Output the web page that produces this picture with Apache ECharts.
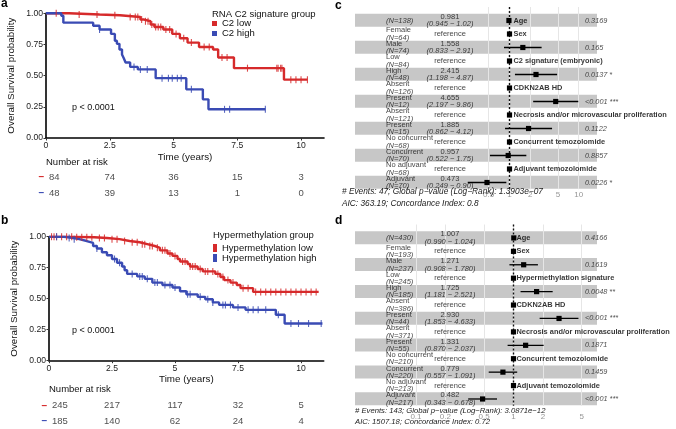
<!DOCTYPE html>
<html>
<head>
<meta charset="utf-8">
<script src="https://cdn.jsdelivr.net/npm/echarts@6/dist/echarts.min.js"></script>
<style>html,body{margin:0;padding:0;background:#fff}#main{width:676px;height:429px}</style>
</head>
<body>
<div id="main"></div>
<script>
var FONT = '"Liberation Sans", Arial, sans-serif';
var RED = '#d62a2b', BLUE = '#3a4bb4';

// ---- a: RNA C2 signature group ----
var kmTicks = [0, 2.5, 5, 7.5, 10];
var c2LowSteps = [[0,1],[0.9,0.99],[2.1,0.984],[2.9,0.97],[3.7,0.95],[3.85,0.936],[4.1,0.91],[4.25,0.89],[4.6,0.87],[4.95,0.835],[5.25,0.80],[5.55,0.765],[6.0,0.73],[6.55,0.71],[6.75,0.645],[7.37,0.56],[9.33,0.468],[10.25,0.468]];
var c2LowCensor = [0.4,1.3,2.0,2.7,3.3,3.5,3.6,3.75,3.9,4.0,4.15,4.3,4.4,4.5,4.7,4.85,5.1,5.4,5.7,6.2,6.4,6.9,7.1,7.9,9.05,9.1,9.2,9.25,9.6,9.8,10.0,10.25];
var c2HighSteps = [[0,1],[0.6,0.98],[0.68,0.925],[1.85,0.9],[2.1,0.87],[2.55,0.835],[2.7,0.78],[2.78,0.755],[2.88,0.71],[2.98,0.67],[3.05,0.64],[3.12,0.605],[3.3,0.57],[3.6,0.55],[4.3,0.48],[5.5,0.39],[6.15,0.31],[6.37,0.23],[8.6,0.23]];
var c2HighCensor = [2.1,3.45,3.7,3.97,4.55,4.8,4.95,5.15,5.3,5.7,7.0,7.2,8.6];
var riskALow = [84, 74, 36, 15, 3];
var riskAHigh = [48, 39, 13, 1, 0];

// ---- b: hypermethylation group ----
var hypLowSteps = [[0,1],[1.0,0.995],[1.8,0.99],[2.3,0.98],[2.8,0.965],[3.2,0.955],[3.6,0.94],[3.9,0.925],[4.2,0.91],[4.4,0.89],[4.7,0.865],[4.9,0.845],[5.1,0.82],[5.2,0.80],[5.5,0.78],[5.6,0.76],[5.9,0.74],[6.1,0.72],[6.6,0.70],[6.8,0.675],[6.95,0.65],[7.2,0.63],[7.45,0.61],[7.6,0.585],[8.1,0.555],[10.7,0.555]];
var hypLowCensor = [0.1,0.2,0.3,0.5,0.7,0.9,1.1,1.3,1.5,1.7,2.0,2.2,2.5,2.7,3.0,3.3,3.5,3.7,3.8,4.0,4.1,4.3,4.5,4.6,4.8,5.0,5.3,5.4,5.6,5.7,5.8,6.0,6.2,6.3,6.5,6.7,6.9,7.1,7.3,7.7,7.9,8.2,8.4,8.6,8.8,9.0,9.2,9.4,9.6,9.8,10.0,10.2,10.4,10.6];
var hypHighSteps = [[0,1],[0.6,0.99],[0.9,0.98],[1.2,0.965],[1.5,0.95],[1.75,0.925],[1.9,0.905],[2.1,0.875],[2.3,0.85],[2.5,0.82],[2.7,0.79],[2.9,0.76],[3.0,0.73],[3.1,0.70],[3.5,0.68],[3.8,0.66],[4.1,0.63],[4.5,0.61],[4.9,0.59],[5.2,0.56],[5.45,0.535],[5.9,0.515],[6.2,0.495],[6.5,0.47],[6.75,0.45],[7.3,0.43],[7.8,0.41],[9.0,0.37],[9.35,0.30],[10.85,0.30]];
var hypHighCensor = [0.3,0.8,1.0,1.9,2.6,2.8,3.3,3.6,3.7,3.9,4.2,4.3,4.6,4.8,5.0,5.5,5.6,6.0,6.3,6.5,6.9,7.0,7.2,7.5,7.9,8.1,8.3,8.6,9.1,9.6,9.9,10.3,10.8];
var riskBLow = [245, 217, 117, 32, 5];
var riskBHigh = [185, 140, 62, 24, 4];

// ---- c: Cox model, C2 signature ----
var cLevels = ['', 'Female', 'Male', 'Low', 'High', 'Absent', 'Present', 'Absent', 'Present', 'No concurrent', 'Concurrent', 'No adjuvant', 'Adjuvant'];
var cN = [138, 64, 74, 84, 48, 126, 12, 121, 15, 68, 70, 68, 70];
var cHR = ['0.981', null, '1.558', null, '2.415', null, '4.655', null, '1.885', null, '0.957', null, '0.473'];
var cLo = ['0.945', null, '0.833', null, '1.198', null, '2.197', null, '0.862', null, '0.522', null, '0.249'];
var cHi = ['1.02', null, '2.91', null, '4.87', null, '9.86', null, '4.12', null, '1.75', null, '0.90'];
var cVars = ['Age', 'Sex', '', 'C2 signature (embryonic)', '', 'CDKN2AB HD', '', 'Necrosis and/or microvascular proliferation', '', 'Concurrent temozolomide', '', 'Adjuvant temozolomide', ''];
var cP = ['0.3169', '', '0.165', '', '0.0137 *', '', '<0.001 ***', '', '0.1122', '', '0.8857', '', '0.0226 *'];
var cTicks = [0.5, 1, 2, 5, 10];
var cFoot = ['# Events: 47; Global p\u2212value (Log\u2212Rank): 1.3903e\u221207', 'AIC: 363.19; Concordance Index: 0.8'];

// ---- d: Cox model, hypermethylation ----
var dLevels = ['', 'Female', 'Male', 'Low', 'High', 'Absent', 'Present', 'Absent', 'Present', 'No concurrent', 'Concurrent', 'No adjuvant', 'Adjuvant'];
var dN = [430, 193, 237, 245, 185, 386, 44, 371, 55, 210, 220, 213, 217];
var dHR = ['1.007', null, '1.271', null, '1.725', null, '2.930', null, '1.331', null, '0.779', null, '0.482'];
var dLo = ['0.990', null, '0.908', null, '1.181', null, '1.853', null, '0.870', null, '0.557', null, '0.343'];
var dHi = ['1.024', null, '1.780', null, '2.521', null, '4.633', null, '2.037', null, '1.091', null, '0.678'];
var dVars = ['Age', 'Sex', '', 'Hypermethylation signature', '', 'CDKN2AB HD', '', 'Necrosis and/or microvascular proliferation', '', 'Concurrent temozolomide', '', 'Adjuvant temozolomide', ''];
var dP = ['0.4166', '', '0.1619', '', '0.0048 **', '', '<0.001 ***', '', '0.1871', '', '0.1459', '', '<0.001 ***'];
var dTicks = [0.1, 0.2, 0.5, 1, 2, 5];
var dFoot = ['# Events: 143; Global p\u2212value (Log\u2212Rank): 3.0871e\u221212', 'AIC: 1507.18; Concordance Index: 0.72'];

var myChart = echarts.init(document.getElementById('main'), null, {renderer: 'canvas'});

function survAt(steps, t) {
    var s = steps[0][1];
    for (var i = 0; i < steps.length; i++) if (steps[i][0] <= t) s = steps[i][1];
    return s;
}

// step line + censor ticks for one group
function kmSeries(name, steps, censor, color, ax) {
    return [{
        name: name, type: 'line', step: 'end', xAxisIndex: ax, yAxisIndex: ax,
        data: steps, showSymbol: false, symbol: 'none',
        lineStyle: {color: color, width: 2.4}, itemStyle: {color: color}, z: 3
    }, {
        name: name, type: 'scatter', xAxisIndex: ax, yAxisIndex: ax, clip: false,
        data: censor.map(function (t) { return [t, survAt(steps, t)]; }),
        symbol: 'rect', symbolSize: [1.1, 7], itemStyle: {color: color, opacity: 0.85}, z: 4
    }];
}

function riskSeries(values, row, ax) {
    return {
        type: 'scatter', xAxisIndex: ax, yAxisIndex: ax, symbolSize: 0, clip: false,
        data: values.map(function (n, i) {
            var item = {value: [kmTicks[i], row, n]};
            if (i === 0) item.label = {position: 'right', distance: 3};
            return item;
        }),
        label: {show: true, position: 'inside', formatter: function (p) { return p.value[2]; },
            fontSize: 9.5, color: '#222', fontFamily: FONT}
    };
}

function kmAxes(grid, gridRisk) {
    var x = {
        gridIndex: grid, type: 'value', min: 0, max: 10.9, interval: 2.5,
        name: 'Time (years)', nameLocation: 'middle', nameGap: 14,
        nameTextStyle: {fontSize: 9.8, color: '#111', fontFamily: FONT},
        axisLine: {onZero: false, lineStyle: {color: '#000', width: 1.6}},
        axisTick: {length: 2.5, customValues: kmTicks, lineStyle: {color: '#333'}},
        axisLabel: {fontSize: 8.6, color: '#222', margin: 3, customValues: kmTicks, fontFamily: FONT},
        splitLine: {show: false}
    };
    var y = {
        gridIndex: grid, type: 'value', min: 0, max: 1, interval: 0.25,
        name: 'Overall Survival probability', nameLocation: 'middle', nameGap: 30,
        nameTextStyle: {fontSize: 9.8, color: '#111', fontFamily: FONT},
        axisLine: {show: true, lineStyle: {color: '#000', width: 1.6}},
        axisTick: {show: true, length: 2.5, lineStyle: {color: '#333'}},
        axisLabel: {fontSize: 8.6, color: '#222', margin: 3, fontFamily: FONT,
            formatter: function (v) { return v.toFixed(2); }},
        splitLine: {show: false}
    };
    var xr = {gridIndex: gridRisk, type: 'value', min: 0, max: 10.9, show: false};
    var yr = {
        gridIndex: gridRisk, type: 'category', data: ['low', 'high'], inverse: true,
        axisLine: {show: false}, axisTick: {show: false},
        axisLabel: {margin: 2, fontSize: 10, fontWeight: 'bold', fontFamily: FONT,
            formatter: function () { return '\u2013'; },
            color: function (v) { return v === 'low' ? RED : BLUE; }}
    };
    return {x: [x, xr], y: [y, yr]};
}

// forest plot: bands, grid lines, dashed ref line, CI, tick labels, text columns
function forestSeries(xLog, xTxt, yAx, levels, ns, hrs, los, his, vars, ps, ticks, varCol, tickDist) {
    var rows = levels.map(function (_, i) { return i + 1; });
    var bands = rows.filter(function (r) { return r % 2 === 1; })
        .map(function (r) { return [{yAxis: r - 0.5}, {yAxis: r + 0.47}]; });
    var base = {xAxisIndex: xLog, yAxisIndex: yAx, silent: true};
    var out = [];
    out.push(Object.assign({type: 'line', data: [], z: 1,
        markArea: {silent: true, itemStyle: {color: '#c7c7c7'}, data: bands}}, base));
    out.push(Object.assign({type: 'line', data: [], z: 2,
        markLine: {silent: true, symbol: ['none', 'none'], label: {show: false},
            lineStyle: {color: '#e6e6e6', width: 1, type: 'solid'},
            data: ticks.map(function (v) { return {xAxis: v}; })}}, base));
    out.push(Object.assign({type: 'line', data: [], z: 3,
        markLine: {silent: true, symbol: ['none', 'none'], label: {show: false},
            lineStyle: {color: '#111', width: 1.4, type: [2, 2]},
            data: [{xAxis: 1}]}}, base));
    out.push(Object.assign({
        type: 'custom', z: 5,
        data: rows.map(function (r, i) {
            var h = hrs[i] ? parseFloat(hrs[i]) : 1;
            var lo = los[i] ? parseFloat(los[i]) : h;
            var hi = his[i] ? parseFloat(his[i]) : h;
            return [h, r, lo, hi];
        }),
        renderItem: function (params, api) {
            var y = api.value(1), h = api.value(0), lo = api.value(2), hi = api.value(3);
            var p = api.coord([h, y]);
            var kids = [];
            if (lo !== hi) {
                var a = api.coord([lo, y]), b = api.coord([hi, y]);
                kids.push({type: 'line', shape: {x1: a[0], y1: a[1], x2: b[0], y2: b[1]},
                    style: {stroke: '#000', lineWidth: 1.3}});
            }
            kids.push({type: 'rect', shape: {x: p[0] - 2.6, y: p[1] - 2.6, width: 5.2, height: 5.2},
                style: {fill: '#000'}});
            return {type: 'group', children: kids};
        }
    }, base));
    out.push(Object.assign({
        type: 'scatter', z: 6, symbolSize: 0, clip: false,
        data: ticks.map(function (v) { return [v, 13.5]; }),
        label: {show: true, position: 'bottom', distance: tickDist, color: '#7a7a7a', fontSize: 8,
            fontFamily: FONT, formatter: function (p) { return String(p.value[0]); }}
    }, base));

    // text columns on a hidden linear axis across the panel width
    var texts = [], data = [];
    rows.forEach(function (r, i) {
        texts.push(levels[i] ? '{lv|' + levels[i] + '}\n{nn|(N=' + ns[i] + ')}' : '{nn|(N=' + ns[i] + ')}');
        data.push({value: [31, r], label: {position: 'right', distance: 0}});
        texts.push(hrs[i] ? '{lv|' + hrs[i] + '}\n{nn|(' + los[i] + ' \u2212 ' + his[i] + ')}' : '{lv|reference}');
        data.push({value: [95, r], label: {position: 'inside'}});
        if (vars[i]) {
            texts.push('{vb|' + vars[i] + '}');
            data.push({value: [varCol, r], label: {position: 'right', distance: 0}});
        }
        if (ps[i]) {
            texts.push('{pv|' + ps[i] + '}');
            data.push({value: [230, r], label: {position: 'right', distance: 0}});
        }
    });
    out.push({
        type: 'scatter', xAxisIndex: xTxt, yAxisIndex: yAx, z: 7, silent: true, symbolSize: 0, clip: false,
        data: data,
        label: {show: true, formatter: function (p) { return texts[p.dataIndex]; },
            rich: {
                lv: {fontSize: 7.5, lineHeight: 7.3, color: '#111', fontFamily: FONT},
                nn: {fontSize: 7.5, lineHeight: 7.3, color: '#111', fontStyle: 'italic', fontFamily: FONT},
                vb: {fontSize: 7.4, color: '#000', fontWeight: 'bold', fontFamily: FONT},
                pv: {fontSize: 7.3, color: '#222', fontStyle: 'italic', fontFamily: FONT}
            }}
    });
    return out;
}

function txt(x, y, s, size, extra) {
    return {type: 'text', x: x, y: y, z: 100, silent: true,
        style: Object.assign({text: s, fontSize: size, fontFamily: FONT, fill: '#111', verticalAlign: 'middle'}, extra || {})};
}

var axA = kmAxes(0, 1), axB = kmAxes(2, 3);

var option = {
    animation: false,
    textStyle: {fontFamily: FONT},
    grid: [
        {left: 46, top: 13.3, width: 278, height: 124.7},
        {left: 46, top: 169, width: 278, height: 32},
        {left: 49, top: 236.7, width: 274.7, height: 124},
        {left: 49, top: 398, width: 274.7, height: 32},
        {left: 355, top: 7, width: 242, height: 182.25},
        {left: 355, top: 224.5, width: 242, height: 181.2}
    ],
    xAxis: [axA.x[0], axA.x[1], axB.x[0], axB.x[1],
        {gridIndex: 4, type: 'log', logBase: 10, min: 0.00585, max: 18.38, show: false},
        {gridIndex: 4, type: 'value', min: 0, max: 242, show: false},
        {gridIndex: 5, type: 'log', logBase: 10, min: 0.0237, max: 7.18, show: false},
        {gridIndex: 5, type: 'value', min: 0, max: 242, show: false}
    ],
    yAxis: [axA.y[0], axA.y[1], axB.y[0], axB.y[1],
        {gridIndex: 4, type: 'value', min: 0, max: 13.5, inverse: true, show: false},
        {gridIndex: 5, type: 'value', min: 0, max: 13.5, inverse: true, show: false}
    ],
    legend: [{
        left: 212, top: 18.5, orient: 'vertical', itemGap: 0, itemWidth: 5, itemHeight: 5, padding: 0,
        selectedMode: false,
        data: [{name: 'C2 low', icon: 'rect'}, {name: 'C2 high', icon: 'rect'}],
        textStyle: {fontSize: 9.5, lineHeight: 9, color: '#111', fontFamily: FONT}
    }, {
        left: 213, top: 243, orient: 'vertical', itemGap: 0, itemWidth: 4, itemHeight: 8, padding: 0,
        selectedMode: false,
        data: [{name: 'Hypermethylation low', icon: 'rect'}, {name: 'Hypermethylation high', icon: 'rect'}],
        textStyle: {fontSize: 9.5, lineHeight: 10, color: '#111', fontFamily: FONT}
    }],
    series: [].concat(
        kmSeries('C2 low', c2LowSteps, c2LowCensor, RED, 0),
        kmSeries('C2 high', c2HighSteps, c2HighCensor, BLUE, 0),
        [riskSeries(riskALow, 'low', 1), riskSeries(riskAHigh, 'high', 1)],
        kmSeries('Hypermethylation low', hypLowSteps, hypLowCensor, RED, 2),
        kmSeries('Hypermethylation high', hypHighSteps, hypHighCensor, BLUE, 2),
        [riskSeries(riskBLow, 'low', 3), riskSeries(riskBHigh, 'high', 3)],
        forestSeries(4, 5, 4, cLevels, cN, cHR, cLo, cHi, cVars, cP, cTicks, 158.5, 1.5),
        forestSeries(6, 7, 5, dLevels, dN, dHR, dLo, dHi, dVars, dP, dTicks, 161.5, 7)
    ),
    graphic: [
        txt(1, 4, 'a', 12, {fontWeight: 'bold', fill: '#000'}),
        txt(1, 221, 'b', 12, {fontWeight: 'bold', fill: '#000'}),
        txt(335, 6, 'c', 12, {fontWeight: 'bold', fill: '#000'}),
        txt(335, 221, 'd', 12, {fontWeight: 'bold', fill: '#000'}),
        txt(72, 108, 'p < 0.0001', 9),
        txt(72, 331, 'p < 0.0001', 9),
        txt(212, 14, 'RNA C2 signature group', 9.5),
        txt(213, 235, 'Hypermethylation group', 9.5),
        txt(46, 162, 'Number at risk', 9.5),
        txt(49, 389, 'Number at risk', 9.5),
        txt(342, 192, cFoot[0], 8.3, {fontStyle: 'italic', fill: '#222'}),
        txt(342, 204, cFoot[1], 8.3, {fontStyle: 'italic', fill: '#222'}),
        txt(355, 410.5, dFoot[0], 7.7, {fontStyle: 'italic', fill: '#222'}),
        txt(355, 422, dFoot[1], 7.7, {fontStyle: 'italic', fill: '#222'})
    ]
};
myChart.setOption(option);
</script>
</body>
</html>
